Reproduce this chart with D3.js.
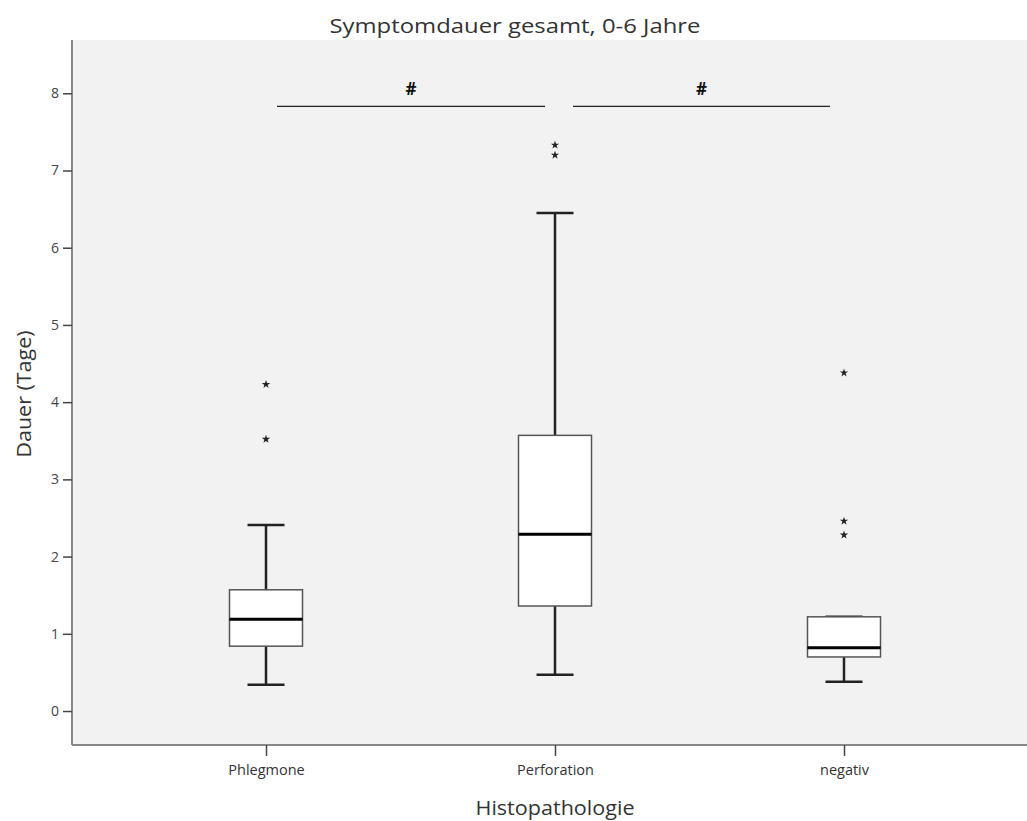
<!DOCTYPE html>
<html><head><meta charset="utf-8">
<script src="https://cdn.jsdelivr.net/npm/d3@7"></script>
<style>body{margin:0;background:#fff}svg{display:block}</style>
</head><body><svg id="c" width="1027" height="821"></svg>
<script>
const categories = ["Phlegmone", "Perforation", "negativ"];
const whiskerLow  = [0.34, 0.47, 0.38];
const q1          = [0.84, 1.36, 0.70];
const median      = [1.19, 2.29, 0.82];
const q3          = [1.57, 3.57, 1.22];
const whiskerHigh = [2.41, 6.45, 1.22];
const outliers    = [[4.23, 3.52], [7.33, 7.20], [4.38, 2.46, 2.28]];
const yTicks      = [0, 1, 2, 3, 4, 5, 6, 7, 8];
const sigBrackets = [{from: 0, to: 1, label: "#"}, {from: 1, to: 2, label: "#"}];
const sigLevel    = 7.83;
const title = "Symptomdauer gesamt, 0-6 Jahre";
const xTitle = "Histopathologie";
const yTitle = "Dauer (Tage)";

const font = "'Open Sans',sans-serif";
const svg = d3.select("#c");
const L = 72, T = 40, R = 1027, B = 745;
const y = d3.scaleLinear().domain([-0.44, 8.69]).range([B, T]);
const x = d3.scalePoint().domain(categories).range([266, 844]);

svg.append("rect").attr("x", L).attr("y", T).attr("width", R - L).attr("height", B - T).attr("fill", "#f2f2f2");

// axes
const yAxis = svg.append("g").attr("transform", `translate(${L},0)`)
  .call(d3.axisLeft(y).tickValues(yTicks).tickSize(9).tickPadding(4).tickFormat(d3.format("d")));
yAxis.select(".domain").attr("stroke", "#888").attr("stroke-width", 2).attr("d", `M0,${T}V${B}`);
yAxis.selectAll(".tick line").attr("stroke", "#444").attr("stroke-width", 1.5);
yAxis.selectAll(".tick text").attr("font-family", font).attr("font-size", 14).attr("fill", "#444");

const xAxis = svg.append("g").attr("transform", `translate(0,${B})`)
  .call(d3.axisBottom(x).tickSize(11).tickPadding(9));
xAxis.select(".domain").attr("stroke", "#888").attr("stroke-width", 2).attr("d", `M${L},0H${R}`);
xAxis.selectAll(".tick line").attr("stroke", "#444").attr("stroke-width", 1.5);
xAxis.selectAll(".tick text").attr("font-family", font).attr("font-size", 14.5).attr("fill", "#333");

// boxes
const bw = 73, cw = 37;
categories.forEach((c, i) => {
  const cx = x(c);
  const g = svg.append("g");
  g.append("line").attr("x1", cx).attr("x2", cx).attr("y1", y(q3[i])).attr("y2", y(whiskerHigh[i])).attr("stroke", "#222").attr("stroke-width", 2.5);
  g.append("line").attr("x1", cx).attr("x2", cx).attr("y1", y(q1[i])).attr("y2", y(whiskerLow[i])).attr("stroke", "#222").attr("stroke-width", 2.5);
  g.append("line").attr("x1", cx - cw/2).attr("x2", cx + cw/2).attr("y1", y(whiskerHigh[i])).attr("y2", y(whiskerHigh[i])).attr("stroke", "#222").attr("stroke-width", 2.5);
  g.append("line").attr("x1", cx - cw/2).attr("x2", cx + cw/2).attr("y1", y(whiskerLow[i])).attr("y2", y(whiskerLow[i])).attr("stroke", "#222").attr("stroke-width", 2.5);
  g.append("rect").attr("x", cx - bw/2).attr("y", y(q3[i])).attr("width", bw).attr("height", y(q1[i]) - y(q3[i]))
    .attr("fill", "#fff").attr("stroke", "#555").attr("stroke-width", 1.5);
  g.append("line").attr("x1", cx - bw/2).attr("x2", cx + bw/2).attr("y1", y(median[i])).attr("y2", y(median[i])).attr("stroke", "#000").attr("stroke-width", 3);
  outliers[i].forEach(v => {
    g.append("path").attr("d", d3.symbol(d3.symbolStar, 22)()).attr("transform", `translate(${cx},${y(v)})`).attr("fill", "#222");
  });
});

// significance
sigBrackets.forEach((s, k) => {
  const x1 = k === 0 ? x(categories[s.from]) + 11 : x(categories[s.from]) + 18;
  const x2 = k === 0 ? x(categories[s.to]) - 10 : x(categories[s.to]) - 14;
  svg.append("line").attr("x1", x1).attr("x2", x2).attr("y1", y(sigLevel)).attr("y2", y(sigLevel)).attr("stroke", "#222").attr("stroke-width", 1.3);
  svg.append("text").attr("x", (x1 + x2) / 2).attr("y", y(sigLevel) - 11).attr("text-anchor", "middle")
    .attr("font-family", font).attr("font-weight", "bold").attr("font-size", 17).attr("fill", "#111").text(s.label);
});

svg.append("text").attr("x", 515).attr("y", 33).attr("text-anchor", "middle").attr("font-family", font).attr("font-size", 20.5)
  .attr("textLength", 371).attr("lengthAdjust", "spacingAndGlyphs").attr("fill", "#333").text(title);
svg.append("text").attr("x", 555).attr("y", 815).attr("text-anchor", "middle").attr("font-family", font).attr("font-size", 20.5)
  .attr("textLength", 159).attr("lengthAdjust", "spacingAndGlyphs").attr("fill", "#333").text(xTitle);
svg.append("text").attr("transform", "translate(31,394) rotate(-90)").attr("text-anchor", "middle").attr("font-family", font).attr("font-size", 19.5)
  .attr("textLength", 127).attr("lengthAdjust", "spacingAndGlyphs").attr("fill", "#333").text(yTitle);
</script></body></html>
